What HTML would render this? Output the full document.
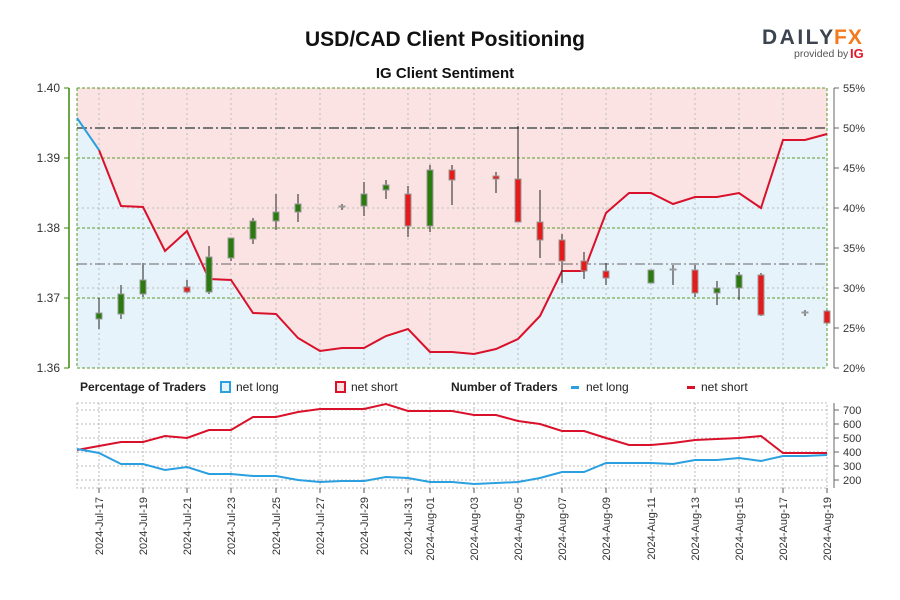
<!DOCTYPE html>
<html><head><meta charset="utf-8"><style>
body{margin:0;background:#fff;}
svg{display:block;font-family:"Liberation Sans",sans-serif;}
</style></head><body>
<svg width="900" height="600" viewBox="0 0 900 600" xmlns="http://www.w3.org/2000/svg">
<rect width="900" height="600" fill="#fff"/>
<text x="445" y="46" text-anchor="middle" font-size="21" font-weight="bold" fill="#111">USD/CAD Client Positioning</text>
<text x="445" y="78" text-anchor="middle" font-size="15" font-weight="bold" fill="#111">IG Client Sentiment</text>
<text x="762" y="44" font-size="21" font-weight="bold" fill="#3c4450" letter-spacing="2.5">DAILY</text>
<text x="834" y="44" font-size="21" font-weight="bold" fill="#f47a20" letter-spacing="1">FX</text>
<text x="794" y="57" font-size="10.5" fill="#555">provided by</text>
<text x="850" y="58" font-size="13" font-weight="bold" fill="#e3152a">IG</text>

<!-- main plot fills -->
<polygon fill="#fbe3e4" points="77,88 827,88 827,134 805,140 783,140 761,208 739,193 717,197 695,197 673,204 651,193 629,193 606,213 584,271 562,271 540,316 518,339 496,349 474,354 452,352 430,352 408,329 386,336 364,348 342,348 320,351 298,338 276,314 253,313 231,280 209,279 187,231 165,251 143,207 121,206 99,150 77,118"/>
<polygon fill="#e6f3fb" points="77,368 827,368 827,134 805,140 783,140 761,208 739,193 717,197 695,197 673,204 651,193 629,193 606,213 584,271 562,271 540,316 518,339 496,349 474,354 452,352 430,352 408,329 386,336 364,348 342,348 320,351 298,338 276,314 253,313 231,280 209,279 187,231 165,251 143,207 121,206 99,150 77,118"/>
<g stroke="#bbb" stroke-dasharray="2,3" stroke-width="1">
<line x1="99" y1="88" x2="99" y2="368"/><line x1="143" y1="88" x2="143" y2="368"/><line x1="187" y1="88" x2="187" y2="368"/><line x1="231" y1="88" x2="231" y2="368"/><line x1="276" y1="88" x2="276" y2="368"/><line x1="320" y1="88" x2="320" y2="368"/><line x1="364" y1="88" x2="364" y2="368"/><line x1="408" y1="88" x2="408" y2="368"/><line x1="430" y1="88" x2="430" y2="368"/><line x1="474" y1="88" x2="474" y2="368"/><line x1="518" y1="88" x2="518" y2="368"/><line x1="562" y1="88" x2="562" y2="368"/><line x1="606" y1="88" x2="606" y2="368"/><line x1="651" y1="88" x2="651" y2="368"/><line x1="695" y1="88" x2="695" y2="368"/><line x1="739" y1="88" x2="739" y2="368"/><line x1="783" y1="88" x2="783" y2="368"/>
<line x1="77" y1="208" x2="827" y2="208"/><line x1="77" y1="288" x2="827" y2="288"/>
</g>
<g stroke="#5a9a2a" stroke-dasharray="3,2" stroke-width="1">
<line x1="77" y1="88" x2="827" y2="88"/><line x1="77" y1="158" x2="827" y2="158"/><line x1="77" y1="228" x2="827" y2="228"/><line x1="77" y1="298" x2="827" y2="298"/><line x1="77" y1="368" x2="827" y2="368"/>
<line x1="77" y1="88" x2="77" y2="368"/><line x1="827" y1="88" x2="827" y2="368"/>
</g>
<line x1="77" y1="128" x2="827" y2="128" stroke="#777" stroke-width="2" stroke-dasharray="10,3,2,3"/>
<line x1="77" y1="264" x2="827" y2="264" stroke="#666" stroke-width="1" stroke-dasharray="10,3,2,3"/>
<polyline fill="none" stroke="#d9112a" stroke-width="2" points="99,150 121,206 143,207 165,251 187,231 209,279 231,280 253,313 276,314 298,338 320,351 342,348 364,348 386,336 408,329 430,352 452,352 474,354 496,349 518,339 540,316 562,271 584,271 606,213 629,193 651,193 673,204 695,197 717,197 739,193 761,208 783,140 805,140 827,134"/>
<polyline fill="none" stroke="#2aa0e0" stroke-width="2" points="77,118 99,150"/>

<!-- candles -->
<g stroke="#222" stroke-width="1">
<line x1="99" y1="298" x2="99" y2="329"/><line x1="121" y1="285" x2="121" y2="319"/><line x1="143" y1="263" x2="143" y2="297"/><line x1="187" y1="280" x2="187" y2="293"/><line x1="209" y1="246" x2="209" y2="294"/><line x1="231" y1="238" x2="231" y2="261"/><line x1="253" y1="218" x2="253" y2="244"/><line x1="276" y1="194" x2="276" y2="230"/><line x1="298" y1="194" x2="298" y2="222"/><line x1="342" y1="204" x2="342" y2="210"/><line x1="364" y1="182" x2="364" y2="216"/><line x1="386" y1="180" x2="386" y2="199"/><line x1="408" y1="186" x2="408" y2="237"/><line x1="430" y1="165" x2="430" y2="232"/><line x1="452" y1="165" x2="452" y2="205"/><line x1="496" y1="172" x2="496" y2="193"/><line x1="518" y1="126" x2="518" y2="222"/><line x1="540" y1="190" x2="540" y2="258"/><line x1="562" y1="234" x2="562" y2="283"/><line x1="584" y1="252" x2="584" y2="279"/><line x1="606" y1="263" x2="606" y2="285"/><line x1="651" y1="270" x2="651" y2="283"/><line x1="673" y1="265" x2="673" y2="285"/><line x1="695" y1="265" x2="695" y2="297"/><line x1="717" y1="281" x2="717" y2="305"/><line x1="739" y1="272" x2="739" y2="300"/><line x1="761" y1="273" x2="761" y2="316"/><line x1="805" y1="310" x2="805" y2="316"/><line x1="827" y1="310" x2="827" y2="324"/>
</g>
<g stroke="#999" stroke-width="1">
<rect x="96" y="313" width="6" height="6" fill="#2a7a0e"/><rect x="118" y="294" width="6" height="20" fill="#2a7a0e"/><rect x="140" y="280" width="6" height="14" fill="#2a7a0e"/><rect x="184" y="287" width="6" height="5" fill="#e51a1a"/><rect x="206" y="257" width="6" height="35" fill="#2a7a0e"/><rect x="228" y="238" width="6" height="20" fill="#2a7a0e"/><rect x="250" y="221" width="6" height="18" fill="#2a7a0e"/><rect x="273" y="212" width="6" height="9" fill="#2a7a0e"/><rect x="295" y="204" width="6" height="8" fill="#2a7a0e"/><rect x="339" y="206" width="6" height="1" fill="#222"/><rect x="361" y="194" width="6" height="12" fill="#2a7a0e"/><rect x="383" y="185" width="6" height="5" fill="#2a7a0e"/><rect x="405" y="194" width="6" height="32" fill="#e51a1a"/><rect x="427" y="170" width="6" height="56" fill="#2a7a0e"/><rect x="449" y="170" width="6" height="10" fill="#e51a1a"/><rect x="493" y="176" width="6" height="3" fill="#e51a1a"/><rect x="515" y="179" width="6" height="43" fill="#e51a1a"/><rect x="537" y="222" width="6" height="18" fill="#e51a1a"/><rect x="559" y="240" width="6" height="21" fill="#e51a1a"/><rect x="581" y="261" width="6" height="10" fill="#e51a1a"/><rect x="603" y="271" width="6" height="7" fill="#e51a1a"/><rect x="648" y="270" width="6" height="13" fill="#2a7a0e"/><rect x="670" y="269" width="6" height="1" fill="#222"/><rect x="692" y="270" width="6" height="23" fill="#e51a1a"/><rect x="714" y="288" width="6" height="5" fill="#2a7a0e"/><rect x="736" y="275" width="6" height="13" fill="#2a7a0e"/><rect x="758" y="275" width="6" height="40" fill="#e51a1a"/><rect x="802" y="312" width="6" height="1" fill="#222"/><rect x="824" y="311" width="6" height="12" fill="#e51a1a"/>
</g>

<!-- axes -->
<line x1="69" y1="88" x2="69" y2="368" stroke="#3a8a0a" stroke-width="1.5"/>
<g stroke="#3a8a0a"><line x1="64" y1="88" x2="69" y2="88"/><line x1="64" y1="158" x2="69" y2="158"/><line x1="64" y1="228" x2="69" y2="228"/><line x1="64" y1="298" x2="69" y2="298"/><line x1="64" y1="368" x2="69" y2="368"/></g>
<g font-size="12" fill="#333" text-anchor="end">
<text x="60" y="92">1.40</text><text x="60" y="162">1.39</text><text x="60" y="232">1.38</text><text x="60" y="302">1.37</text><text x="60" y="372">1.36</text>
</g>
<line x1="834" y1="88" x2="834" y2="368" stroke="#666"/>
<g stroke="#666"><line x1="834" y1="88" x2="839" y2="88"/><line x1="834" y1="128" x2="839" y2="128"/><line x1="834" y1="168" x2="839" y2="168"/><line x1="834" y1="208" x2="839" y2="208"/><line x1="834" y1="248" x2="839" y2="248"/><line x1="834" y1="288" x2="839" y2="288"/><line x1="834" y1="328" x2="839" y2="328"/><line x1="834" y1="368" x2="839" y2="368"/></g>
<g font-size="11" fill="#333">
<text x="843" y="92">55%</text><text x="843" y="132">50%</text><text x="843" y="172">45%</text><text x="843" y="212">40%</text><text x="843" y="252">35%</text><text x="843" y="292">30%</text><text x="843" y="332">25%</text><text x="843" y="372">20%</text>
</g>

<!-- legend -->
<g font-size="12" fill="#222">
<text x="80" y="391" font-weight="bold" transform="scale(1,1)">Percentage of Traders</text>
<rect x="221" y="382" width="9" height="10" fill="#e6f3fb" stroke="#2aa0e0" stroke-width="2"/>
<text x="236" y="391">net long</text>
<rect x="336" y="382" width="9" height="10" fill="#fbe3e4" stroke="#d9112a" stroke-width="2"/>
<text x="351" y="391">net short</text>
<text x="451" y="391" font-weight="bold">Number of Traders</text>
<rect x="571" y="386" width="8" height="3" fill="#2aa0e0"/>
<text x="586" y="391">net long</text>
<rect x="687" y="386" width="8" height="3" fill="#d9112a"/>
<text x="701" y="391">net short</text>
</g>

<!-- lower panel -->
<g stroke="#bbb" stroke-dasharray="2,2" stroke-width="1" fill="none">
<rect x="77" y="403" width="750" height="85"/>
<line x1="77" y1="410" x2="827" y2="410"/><line x1="77" y1="424" x2="827" y2="424"/><line x1="77" y1="438" x2="827" y2="438"/><line x1="77" y1="452" x2="827" y2="452"/><line x1="77" y1="466" x2="827" y2="466"/><line x1="77" y1="480" x2="827" y2="480"/>
<line x1="99" y1="403" x2="99" y2="488"/><line x1="143" y1="403" x2="143" y2="488"/><line x1="187" y1="403" x2="187" y2="488"/><line x1="231" y1="403" x2="231" y2="488"/><line x1="276" y1="403" x2="276" y2="488"/><line x1="320" y1="403" x2="320" y2="488"/><line x1="364" y1="403" x2="364" y2="488"/><line x1="408" y1="403" x2="408" y2="488"/><line x1="430" y1="403" x2="430" y2="488"/><line x1="474" y1="403" x2="474" y2="488"/><line x1="518" y1="403" x2="518" y2="488"/><line x1="562" y1="403" x2="562" y2="488"/><line x1="606" y1="403" x2="606" y2="488"/><line x1="651" y1="403" x2="651" y2="488"/><line x1="695" y1="403" x2="695" y2="488"/><line x1="739" y1="403" x2="739" y2="488"/><line x1="783" y1="403" x2="783" y2="488"/>
</g>
<polyline fill="none" stroke="#d9112a" stroke-width="2" points="77,450 99,446 121,442 143,442 165,436 187,438 209,430 231,430 253,417 276,417 298,412 320,409 342,409 364,409 386,404 408,411 430,411 452,411 474,415 496,415 518,421 540,424 562,431 584,431 606,438 629,445 651,445 673,443 695,440 717,439 739,438 761,436 783,453 805,453 827,453"/>
<polyline fill="none" stroke="#2aa0e0" stroke-width="2" points="77,449 99,453 121,464 143,464 165,470 187,467 209,474 231,474 253,476 276,476 298,480 320,482 342,481 364,481 386,477 408,478 430,482 452,482 474,484 496,483 518,482 540,478 562,472 584,472 606,463 629,463 651,463 673,464 695,460 717,460 739,458 761,461 783,456 805,456 827,455"/>
<line x1="834" y1="403" x2="834" y2="488" stroke="#666"/>
<g stroke="#666"><line x1="834" y1="410" x2="839" y2="410"/><line x1="834" y1="424" x2="839" y2="424"/><line x1="834" y1="438" x2="839" y2="438"/><line x1="834" y1="452" x2="839" y2="452"/><line x1="834" y1="466" x2="839" y2="466"/><line x1="834" y1="480" x2="839" y2="480"/></g>
<g font-size="11" fill="#333">
<text x="843" y="414">700</text><text x="843" y="428">600</text><text x="843" y="442">500</text><text x="843" y="456">400</text><text x="843" y="470">300</text><text x="843" y="484">200</text>
</g>
<g stroke="#555"><line x1="99" y1="488" x2="99" y2="493"/><line x1="143" y1="488" x2="143" y2="493"/><line x1="187" y1="488" x2="187" y2="493"/><line x1="231" y1="488" x2="231" y2="493"/><line x1="276" y1="488" x2="276" y2="493"/><line x1="320" y1="488" x2="320" y2="493"/><line x1="364" y1="488" x2="364" y2="493"/><line x1="408" y1="488" x2="408" y2="493"/><line x1="430" y1="488" x2="430" y2="493"/><line x1="474" y1="488" x2="474" y2="493"/><line x1="518" y1="488" x2="518" y2="493"/><line x1="562" y1="488" x2="562" y2="493"/><line x1="606" y1="488" x2="606" y2="493"/><line x1="651" y1="488" x2="651" y2="493"/><line x1="695" y1="488" x2="695" y2="493"/><line x1="739" y1="488" x2="739" y2="493"/><line x1="783" y1="488" x2="783" y2="493"/><line x1="827" y1="488" x2="827" y2="493"/></g>
<g font-size="11" fill="#333" text-anchor="end">
<text transform="translate(103,497) rotate(-90)">2024-Jul-17</text>
<text transform="translate(147,497) rotate(-90)">2024-Jul-19</text>
<text transform="translate(191,497) rotate(-90)">2024-Jul-21</text>
<text transform="translate(235,497) rotate(-90)">2024-Jul-23</text>
<text transform="translate(280,497) rotate(-90)">2024-Jul-25</text>
<text transform="translate(324,497) rotate(-90)">2024-Jul-27</text>
<text transform="translate(368,497) rotate(-90)">2024-Jul-29</text>
<text transform="translate(412,497) rotate(-90)">2024-Jul-31</text>
<text transform="translate(434,497) rotate(-90)">2024-Aug-01</text>
<text transform="translate(478,497) rotate(-90)">2024-Aug-03</text>
<text transform="translate(522,497) rotate(-90)">2024-Aug-05</text>
<text transform="translate(566,497) rotate(-90)">2024-Aug-07</text>
<text transform="translate(610,497) rotate(-90)">2024-Aug-09</text>
<text transform="translate(655,497) rotate(-90)">2024-Aug-11</text>
<text transform="translate(699,497) rotate(-90)">2024-Aug-13</text>
<text transform="translate(743,497) rotate(-90)">2024-Aug-15</text>
<text transform="translate(787,497) rotate(-90)">2024-Aug-17</text>
<text transform="translate(831,497) rotate(-90)">2024-Aug-19</text>
</g>
</svg>
</body></html>
